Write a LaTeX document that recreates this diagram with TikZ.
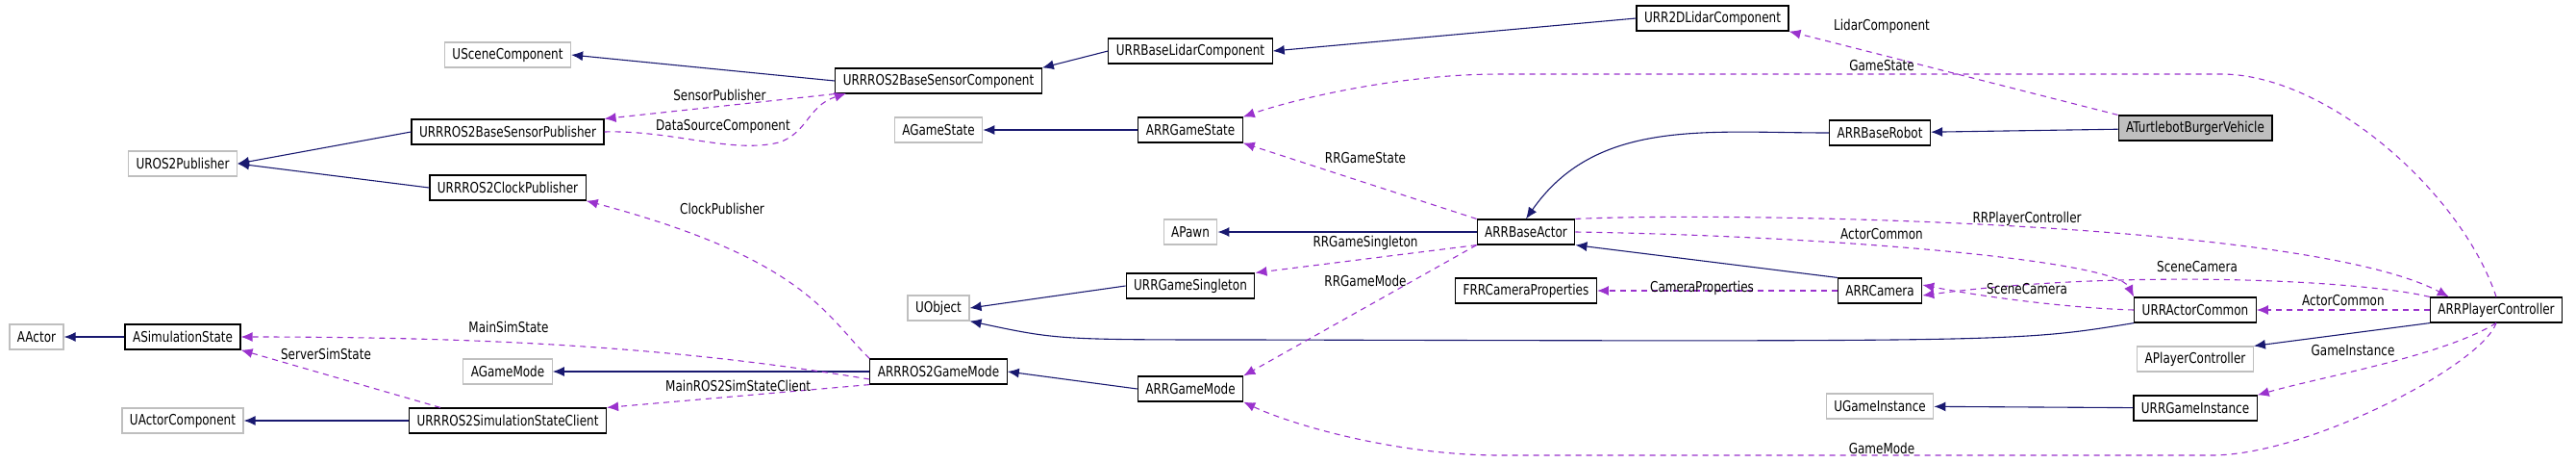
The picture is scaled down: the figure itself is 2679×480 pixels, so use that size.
\documentclass[tikz,border=0pt]{standalone}
\usepackage{fontspec}
\setmainfont[FakeStretch=0.8]{DejaVu Sans}
\usetikzlibrary{arrows.meta}
\definecolor{inhcol}{HTML}{191970}
\definecolor{usecol}{HTML}{9A32CD}
\tikzstyle{cls}=[rectangle, draw=black, line width=1.2pt, fill=white, minimum height=26pt, inner xsep=8pt, font=\fontsize{15}{17}\selectfont, anchor=center]
\tikzstyle{ext}=[cls, draw=black!25]
\tikzstyle{cur}=[cls, fill=black!25]
\tikzstyle{inh}=[draw=inhcol, line width=1.1pt, -{Latex[length=12pt,width=10pt]}]
\tikzstyle{use}=[draw=usecol, line width=1.1pt, dash pattern=on 6pt off 5pt, -{Latex[length=12pt,width=10pt]}]
\tikzstyle{lbl}=[font=\fontsize{15}{17}\selectfont, inner sep=1pt]

\begin{document}
\begin{tikzpicture}[x=1pt,y=-1pt]
	\useasboundingbox (0,0) rectangle (2679,480);

	% left part
	\node[ext] (scene) at (528,57) {USceneComponent};
	\node[cls] (sensorcomp) at (976,84) {URRROS2BaseSensorComponent};
	\node[cls] (sensorpub) at (528,137) {URRROS2BaseSensorPublisher};
	\node[ext] (rospub) at (190,170) {UROS2Publisher};
	\node[cls] (clockpub) at (528,195) {URRROS2ClockPublisher};
	\node[ext] (actor) at (38,350) {AActor};
	\node[cls] (simstate) at (190,350) {ASimulationState};
	\node[ext] (gamemode) at (528,386) {AGameMode};
	\node[ext] (actorcomp) at (190,437) {UActorComponent};
	\node[cls] (simclient) at (528,437) {URRROS2SimulationStateClient};
	\node[cls] (rosgamemode) at (976,386) {ARRROS2GameMode};
	\node[ext] (uobject) at (976,320) {UObject};
	\node[ext] (gamestate) at (976,135) {AGameState};

	% middle part
	\node[cls] (baselidar) at (1238,53) {URRBaseLidarComponent};
	\node[cls] (lidar2d) at (1781,19) {URR2DLidarComponent};
	\node[cls] (rrgamestate) at (1238,135) {ARRGameState};
	\node[ext] (pawn) at (1238,241) {APawn};
	\node[cls] (baseactor) at (1587,241) {ARRBaseActor};
	\node[cls] (singleton) at (1238,297) {URRGameSingleton};
	\node[cls] (camprops) at (1587,302) {FRRCameraProperties};
	\node[cls] (rrgamemode) at (1238,404) {ARRGameMode};

	% right part
	\node[cls] (baserobot) at (1955,138) {ARRBaseRobot};
	\node[cur] (turtle) at (2283,133) {ATurtlebotBurgerVehicle};
	\node[cls] (camera) at (1955,302) {ARRCamera};
	\node[cls] (actcommon) at (2283,322) {URRActorCommon};
	\node[cls] (pc) at (2596,322) {ARRPlayerController};
	\node[ext] (apc) at (2283,373) {APlayerController};
	\node[ext] (ugameinst) at (1955,422) {UGameInstance};
	\node[cls] (gameinst) at (2283,424) {URRGameInstance};

	% inheritance
	\draw[inh] (sensorcomp.west) -- (scene.east);
	\draw[inh] (baselidar.west) -- (sensorcomp.north east);
	\draw[inh] (lidar2d.west) -- (baselidar.east);
	\draw[inh] (sensorpub.west) -- (rospub.east);
	\draw[inh] (clockpub.west) -- (rospub.east);
	\draw[inh] (rrgamestate) -- (gamestate);
	\draw[inh] (turtle) -- (baserobot);
	\draw[inh] (baserobot.west) to[out=180,in=55] (baseactor.north);
	\draw[inh] (baseactor) -- (pawn);
	\draw[inh] (camera.north west) -- (baseactor.south east);
	\draw[inh] (singleton.west) -- (uobject.east);
	\coordinate (objbend) at (1300,353);
	\draw[inh] (actcommon.south west) .. controls (2100,355) .. (objbend) .. controls (1100,353) .. (uobject.south east);
	\draw[inh] (pc.south west) -- (apc.north east);
	\draw[inh] (gameinst) -- (ugameinst);
	\draw[inh] (simstate) -- (actor);
	\draw[inh] (rosgamemode) -- (gamemode);
	\draw[inh] (rrgamemode.west) -- (rosgamemode.east);
	\draw[inh] (simclient) -- (actorcomp);

	% members
	\draw[use] (sensorcomp.south west) -- node[lbl, above=4pt, pos=0.5] {SensorPublisher} (sensorpub.north east);
	\draw[use] (sensorpub.east) .. controls (700,135) and (760,160) .. (810,148) .. controls (840,138) and (840,110) .. (880,97);
	\node[lbl] (dslbl) at (752,131) {DataSourceComponent};
	\draw[use] (turtle.north west) -- (lidar2d.south east);
	\node[lbl] (lclbl) at (1957,27) {LidarComponent};
	\coordinate (gsright) at (2310,77);
	\coordinate (gsleft) at (1560,77);
	\draw[use] (pc.north) .. controls (2560,200) and (2420,77) .. (gsright) -- (gsleft) .. controls (1450,77) and (1340,105) .. (rrgamestate.north east);
	\node[lbl] (gslbl) at (1957,68) {GameState};
	\draw[use] (baseactor.north west) -- (rrgamestate.south east);
	\node[lbl] (rgslbl) at (1420,164) {RRGameState};
	\draw[use] (baseactor.south west) -- (singleton.north east);
	\node[lbl] (sglbl) at (1420,252) {RRGameSingleton};
	\draw[use] (baseactor.south west) -- (rrgamemode.north east);
	\node[lbl] (gmlbl) at (1420,292) {RRGameMode};
	\draw[use] (baseactor.north east) .. controls (1800,220) and (2400,230) .. ([xshift=20pt]pc.north west);
	\node[lbl] (pclbl) at (2108,227) {RRPlayerController};
	\draw[use] (baseactor.east) .. controls (1900,245) and (2200,270) .. (actcommon.north west);
	\node[lbl] (aclbl) at (1957,243) {ActorCommon};
	\draw[use] (pc.north west) .. controls (2450,290) and (2200,280) .. ([yshift=-5pt]camera.east);
	\node[lbl] (sc1lbl) at (2285,277) {SceneCamera};
	\draw[use] (actcommon.west) .. controls (2150,320) and (2060,308) .. ([yshift=6pt]camera.east);
	\node[lbl] (sc2lbl) at (2108,300) {SceneCamera};
	\draw[use] (camera.west) -- (camprops.east);
	\node[lbl] (cplbl2) at (1770,299) {CameraProperties};
	\draw[use] (pc.west) -- node[lbl, above=3pt] {ActorCommon} (actcommon.east);
	\draw[use] (pc.south) .. controls (2540,370) and (2420,390) .. (gameinst.north east);
	\node[lbl] (gilbl) at (2447,364) {GameInstance};
	\coordinate (gmright) at (2300,473);
	\coordinate (gmleft) at (1560,473);
	\draw[use] (pc.south) .. controls (2580,380) and (2400,473) .. (gmright) -- (gmleft) .. controls (1450,473) and (1340,440) .. (rrgamemode.south east);
	\node[lbl] (gmlbl2) at (1957,466) {GameMode};
	\draw[use] (rosgamemode.north west) .. controls (860,330) and (840,270) .. (clockpub.south east);
	\node[lbl] (cplbl) at (751,217) {ClockPublisher};
	\draw[use] ([yshift=-8pt]rosgamemode.west) .. controls (700,360) and (500,350) .. (simstate.east);
	\node[lbl] (mslbl) at (529,340) {MainSimState};
	\draw[use] ([xshift=-70pt]simclient.north) -- (simstate.south east);
	\node[lbl] (sslbl) at (339,368) {ServerSimState};
	\draw[use] (rosgamemode.south west) -- node[lbl, above=3pt] {MainROS2SimStateClient} (simclient.north east);

\end{tikzpicture}
\end{document}
